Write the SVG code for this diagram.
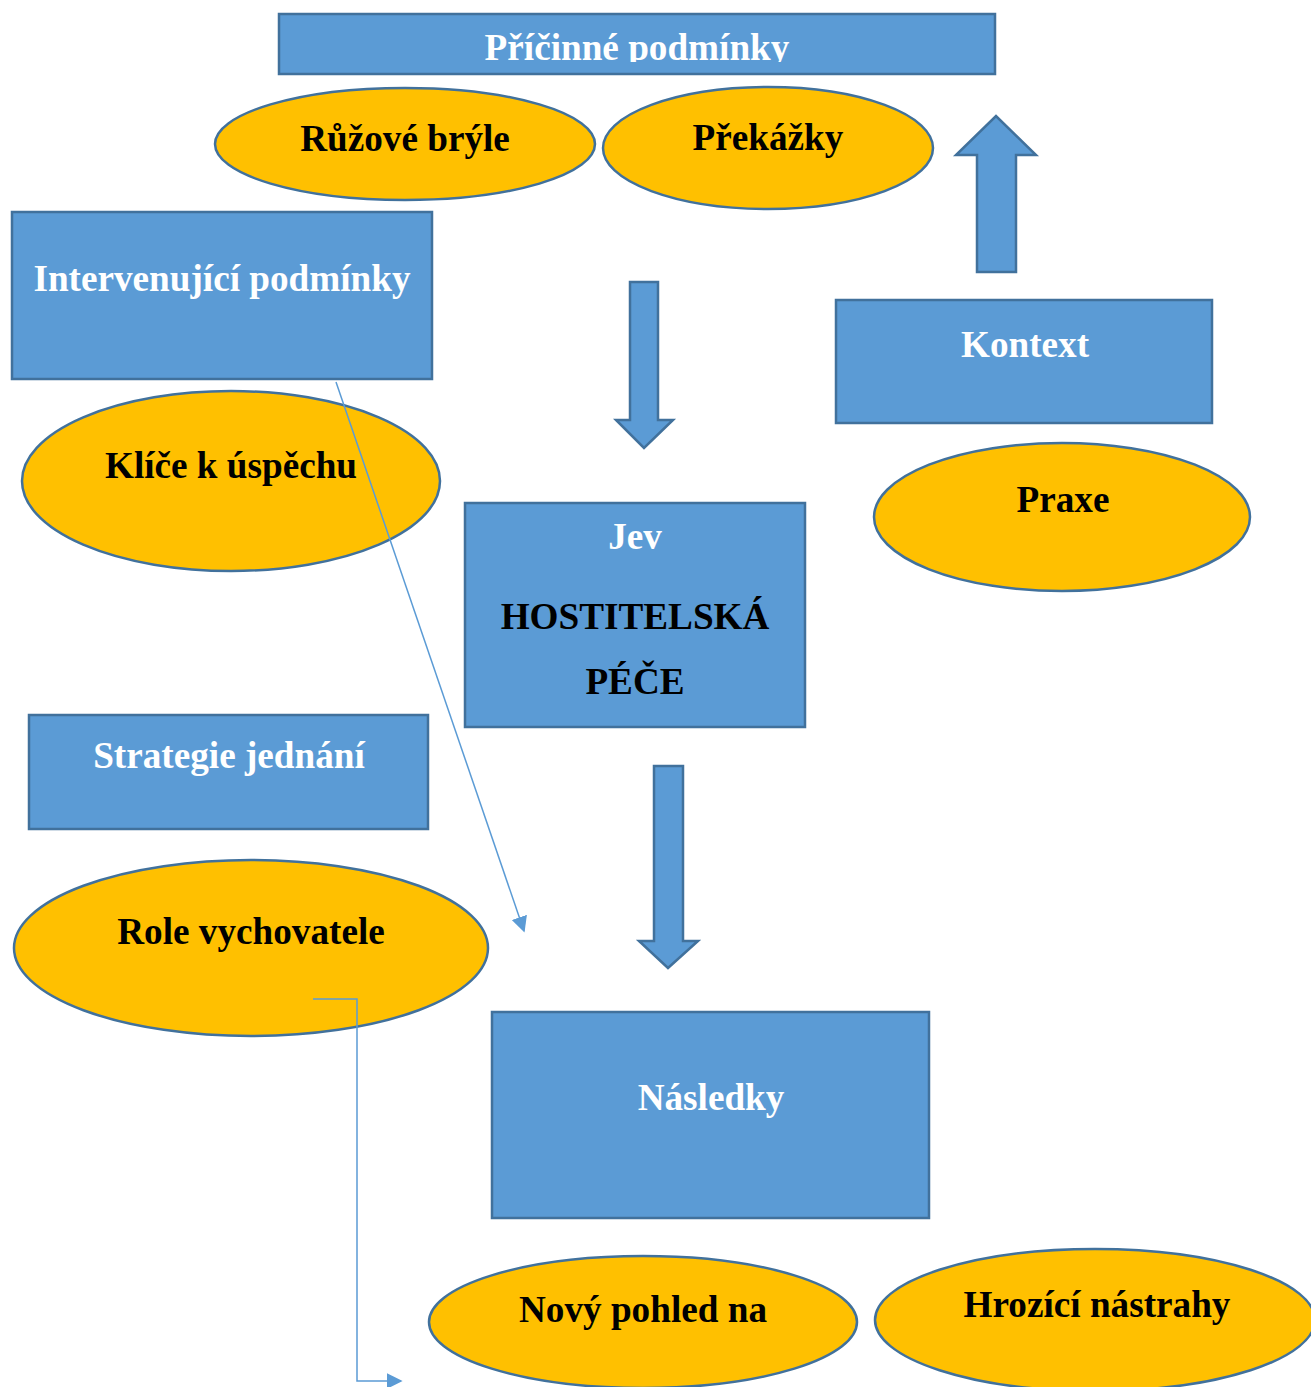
<svg xmlns="http://www.w3.org/2000/svg" width="1311" height="1387" viewBox="0 0 1311 1387">
<style>
.box{fill:#5B9BD5;stroke:#41719C;stroke-width:2.5}
.ell{fill:#FFC000;stroke:#41719C;stroke-width:2.5}
.barrow{fill:#5B9BD5;stroke:#41719C;stroke-width:2.5;stroke-linejoin:miter}
.t{font-family:"Liberation Serif","Times New Roman",serif;font-weight:bold;font-size:37.2px;text-anchor:middle}
.w{fill:#FFFFFF}
.k{fill:#000000}
.conn{fill:none;stroke:#5B9BD5;stroke-width:1.5}
</style>
<defs>
<marker id="ah2" viewBox="0 0 10 10" refX="9" refY="5" markerWidth="16" markerHeight="16" markerUnits="userSpaceOnUse" orient="auto">
<path d="M0,0 L10,5 L0,10 z" fill="#5B9BD5"/>
</marker>
<clipPath id="clipTop"><rect x="279" y="14" width="716" height="48"/></clipPath>
</defs>
<rect width="1311" height="1387" fill="#FFFFFF"/>

<g id="pricinne">
<rect class="box" x="279" y="14" width="716" height="60"/>
<text class="t w" x="637" y="60" clip-path="url(#clipTop)">Příčinné podmínky</text>
</g>
<g id="ruzove">
<ellipse class="ell" cx="405" cy="144" rx="190" ry="56"/>
<text class="t k" x="405" y="151">Růžové brýle</text>
</g>
<g id="prekazky">
<ellipse class="ell" cx="768" cy="148" rx="165" ry="61"/>
<text class="t k" x="768" y="150">Překážky</text>
</g>
<g id="intervenujici">
<rect class="box" x="12" y="212" width="420" height="167"/>
<text class="t w" x="222" y="291">Intervenující podmínky</text>
</g>
<g id="kontext">
<rect class="box" x="836" y="300" width="376" height="123"/>
<text class="t w" x="1025" y="357">Kontext</text>
</g>
<g id="klice">
<ellipse class="ell" cx="231" cy="481" rx="209" ry="90"/>
<text class="t k" x="231" y="478">Klíče k úspěchu</text>
</g>
<g id="praxe">
<ellipse class="ell" cx="1062" cy="517" rx="188" ry="74"/>
<text class="t k" x="1063" y="512">Praxe</text>
</g>
<g id="jev">
<rect class="box" x="465" y="503" width="340" height="224"/>
<text class="t w" x="635" y="549">Jev</text>
<text class="t k" x="635" y="629">HOSTITELSKÁ</text>
<text class="t k" x="635" y="694">PÉČE</text>
</g>
<g id="strategie">
<rect class="box" x="29" y="715" width="399" height="114"/>
<text class="t w" x="229" y="768">Strategie jednání</text>
</g>
<g id="role">
<ellipse class="ell" cx="251" cy="948" rx="237" ry="88"/>
<text class="t k" x="251" y="944">Role vychovatele</text>
</g>
<g id="nasledky">
<rect class="box" x="492" y="1012" width="437" height="206"/>
<text class="t w" x="711" y="1110">Následky</text>
</g>
<g id="novy">
<ellipse class="ell" cx="643" cy="1322" rx="214" ry="66"/>
<text class="t k" x="643" y="1322">Nový pohled na</text>
</g>
<g id="hrozici">
<ellipse class="ell" cx="1095" cy="1320" rx="220" ry="71"/>
<text class="t k" x="1097" y="1317">Hrozící nástrahy</text>
</g>

<g id="connectors">
<polygon class="barrow" points="977,272 977,155 956,155 996,116 1036,155 1016,155 1016,272"/>
<polygon class="barrow" points="630,282 658,282 658,420 673,420 644,448 616,420 630,420"/>
<polygon class="barrow" points="654,766 683,766 683,941 698,941 668,968 639,941 654,941"/>
<line class="conn" x1="336" y1="382" x2="524" y2="931" marker-end="url(#ah2)"/>
<polyline class="conn" points="313,999 357,999 357,1381 401,1381" marker-end="url(#ah2)"/>
</g>
</svg>
